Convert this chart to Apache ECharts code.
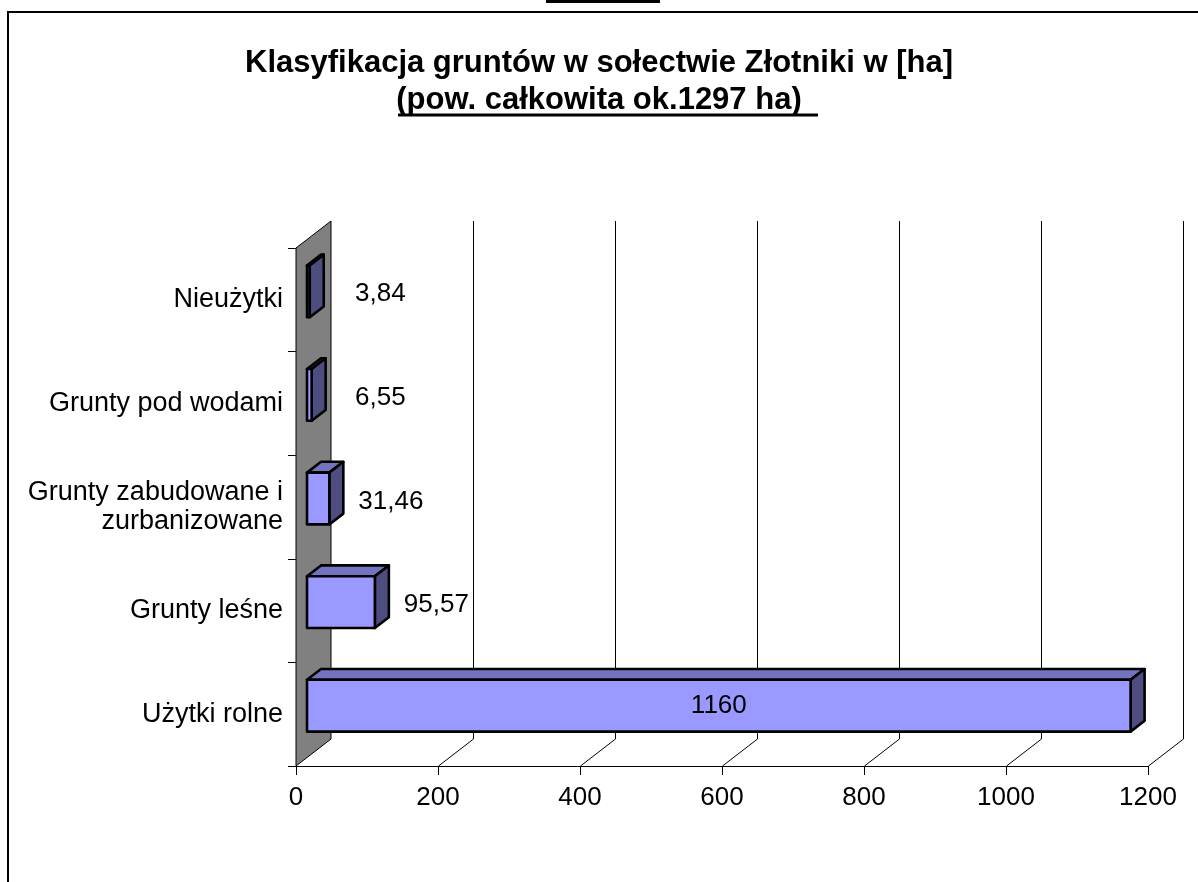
<!DOCTYPE html>
<html>
<head>
<meta charset="utf-8">
<title>Klasyfikacja gruntów</title>
<script src="https://cdn.jsdelivr.net/npm/echarts@6/dist/echarts.min.js"></script>
<style>
  html, body { margin: 0; padding: 0; background: #fff; }
  #main { width: 1198px; height: 882px; }
</style>
</head>
<body>
<div id="main"></div>
<script>
// dane wykresu
var categories = ['Użytki rolne', 'Grunty leśne', 'Grunty zabudowane i\nzurbanizowane', 'Grunty pod wodami', 'Nieużytki'];
var values = [1160, 95.57, 31.46, 6.55, 3.84];
var valueLabels = ['1160', '95,57', '31,46', '6,55', '3,84'];
var xTicks = [0, 200, 400, 600, 800, 1000, 1200];

var FONT = '"Liberation Sans", Arial, sans-serif';
// glebokosc 3D (px)
var DX = 35, DY = 27;
var BAR_FRONT = 11, BAR_BACK = 25;

var chart = echarts.init(document.getElementById('main'), null, { renderer: 'canvas' });

// sciana boczna (szara)
function renderWall(params, api) {
  var cs = params.coordSys;
  var x0 = api.coord([0, 0])[0];
  var bottom = cs.y + cs.height;
  return {
    type: 'polygon',
    shape: { points: [[x0, cs.y], [x0 + DX, cs.y - DY], [x0 + DX, bottom - DY], [x0, bottom]] },
    style: { fill: '#808080', stroke: '#000', lineWidth: 1 }
  };
}

// linie siatki na tylnej scianie + podloga
function renderGrid(params, api) {
  var cs = params.coordSys;
  var x = Math.round(api.coord([api.value(0), 0])[0]) + 0.5;
  var bottom = cs.y + cs.height;
  return {
    type: 'polyline',
    shape: { points: [[x + DX, cs.y - DY], [x + DX, bottom - DY], [x, bottom]] },
    style: { stroke: '#000', lineWidth: 1, fill: null }
  };
}

function renderBar(params, api) {
  var idx = api.value(1);
  var end = api.coord([api.value(0), idx]);
  var start = api.coord([0, idx]);
  var band = api.size([0, 1])[1];
  var h = band * 0.5;
  var k = DY / DX;
  var x0 = start[0] + BAR_FRONT;
  var x1 = end[0] + BAR_FRONT;
  var top = end[1] - h / 2 - BAR_FRONT * k;
  var bot = top + h;
  var dx = BAR_BACK - BAR_FRONT, dy = dx * k;
  var line = { stroke: '#000', lineWidth: 2.6, lineJoin: 'round' };
  var inside = (x1 - x0) > 200;
  var label = {
    type: 'text',
    style: {
      text: valueLabels[params.dataIndex],
      x: inside ? (x0 + x1) / 2 : Math.max(x1 + dx + 15, start[0] + 59),
      y: top + h / 2 + (inside ? 0 : 3),
      align: inside ? 'center' : 'left',
      verticalAlign: 'middle',
      font: '26px ' + FONT,
      fill: '#000'
    },
    z2: 10
  };
  return {
    type: 'group',
    children: [
      { type: 'polygon', shape: { points: [[x0, top], [x1, top], [x1 + dx, top - dy], [x0 + dx, top - dy]] },
        style: Object.assign({ fill: '#7373BF' }, line) },
      { type: 'polygon', shape: { points: [[x1, top], [x1 + dx, top - dy], [x1 + dx, bot - dy], [x1, bot]] },
        style: Object.assign({ fill: '#4D4D80' }, line) },
      { type: 'rect', shape: { x: x0, y: top, width: x1 - x0, height: h },
        style: Object.assign({ fill: '#9999FF' }, line) },
      label
    ]
  };
}

var option = {
  backgroundColor: '#fff',
  animation: false,
  title: {
    text: 'Klasyfikacja gruntów w sołectwie Złotniki w [ha]',
    subtext: '(pow. całkowita ok.1297 ha)',
    left: 'center',
    top: 43,
    itemGap: 6,
    textStyle: { fontSize: 31, fontWeight: 'bold', color: '#000', fontFamily: FONT },
    subtextStyle: { fontSize: 31, fontWeight: 'bold', color: '#000', fontFamily: FONT }
  },
  graphic: [
    { type: 'polyline', shape: { points: [[8, 882], [8, 12], [1198, 12]] },
      style: { stroke: '#000', lineWidth: 2, fill: null } },
    { type: 'rect', shape: { x: 546, y: 0, width: 114, height: 3 }, style: { fill: '#000' } },
    // podkreslenie drugiej linii tytulu
    { type: 'line', shape: { x1: 398, y1: 115, x2: 818, y2: 115 }, style: { stroke: '#000', lineWidth: 3 } }
  ],
  grid: { left: 296, right: 50, top: 248, bottom: 116, containLabel: false },
  xAxis: {
    type: 'value',
    min: 0,
    max: 1200,
    interval: 200,
    axisLine: { show: true, lineStyle: { color: '#000', width: 1 } },
    axisTick: { show: true, length: 9, lineStyle: { color: '#000' } },
    axisLabel: { color: '#000', fontSize: 26, fontFamily: FONT, margin: 19,
      formatter: function (v) { return String(v); } },
    splitLine: { show: false }
  },
  yAxis: {
    type: 'category',
    data: categories,
    boundaryGap: true,
    axisLine: { show: true, lineStyle: { color: '#000', width: 1 } },
    axisTick: { show: true, length: 8, lineStyle: { color: '#000' } },
    axisLabel: { color: '#000', fontSize: 27, fontFamily: FONT, margin: 13, lineHeight: 29, align: 'right' },
    splitLine: { show: false }
  },
  series: [
    { type: 'custom', name: 'wall', renderItem: renderWall, data: [[0, 0]], z: 1, silent: true },
    { type: 'custom', name: 'grid', renderItem: renderGrid,
      data: xTicks.slice(1).map(function (t) { return [t, 0]; }), z: 1, silent: true },
    { type: 'custom', name: 'bars', renderItem: renderBar,
      data: values.map(function (v, i) { return [v, i]; }), z: 3 }
  ]
};

chart.setOption(option);
</script>
</body>
</html>
